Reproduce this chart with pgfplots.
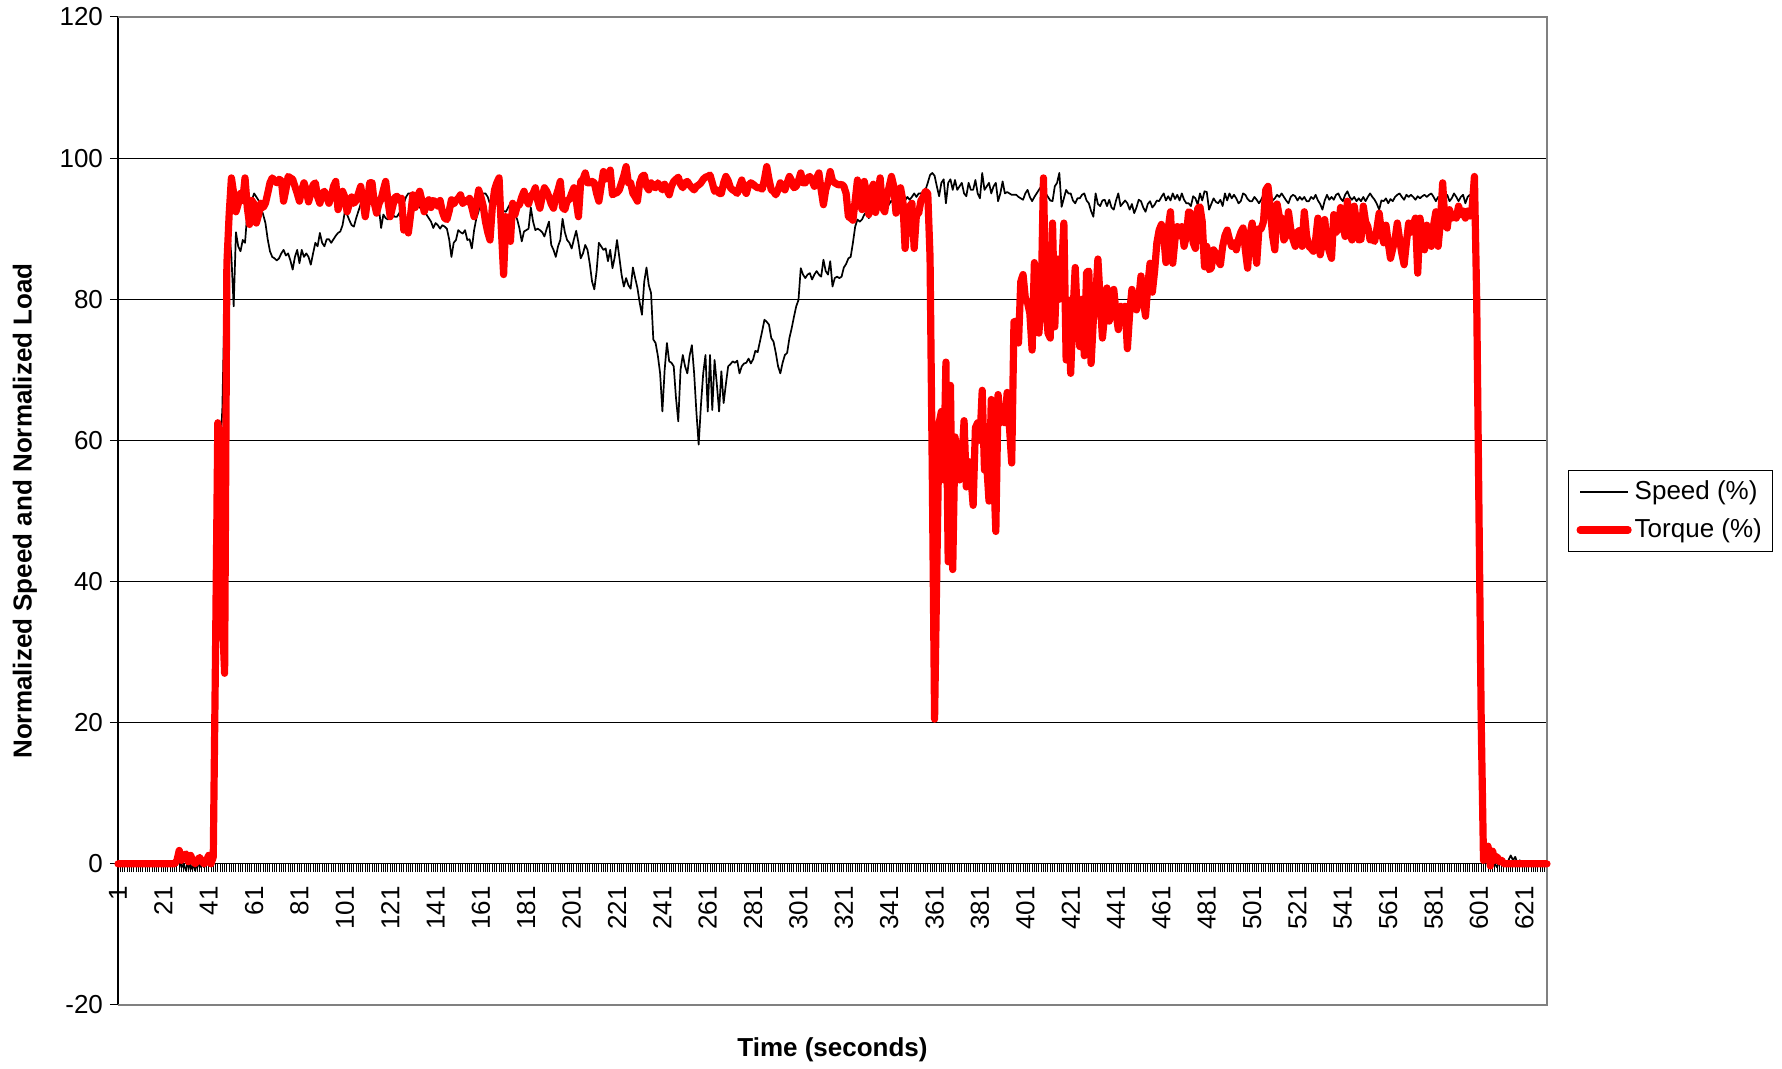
\documentclass[border=0pt]{standalone}
\usepackage{fontspec}
\setmainfont{Liberation Sans}
\usepackage{pgfplots}
\usepackage{pgfplotstable}
\pgfplotsset{compat=1.18}

\pgfplotstableread[row sep=\\]{
S\\
0\\ 0\\ 0\\ 0\\ 0\\ 0\\ 0\\ 0\\ 0\\ 0\\
0\\ 0\\ 0\\ 0\\ 0\\ 0\\ 0\\ 0\\ 0\\ 0\\
0\\ 0\\ 0\\ 0\\ 0\\ 0\\ 0\\ 0.5\\ -0.5\\ 0\\
-1\\ 0.5\\ -0.8\\ 0\\ -1\\ 0.3\\ -0.5\\ 0\\ -0.5\\ 0.2\\
0\\ -0.3\\ 0\\ 20\\ 45\\ 58\\ 64.5\\ 80\\ 88\\ 90\\
86\\ 79\\ 89.5\\ 87.5\\ 86.8\\ 88.4\\ 88\\ 92.2\\ 93\\ 94\\
95\\ 94.5\\ 94\\ 93\\ 92\\ 90.8\\ 88.5\\ 86.8\\ 86\\ 85.8\\
85.5\\ 85.8\\ 86.5\\ 87\\ 86.2\\ 86.5\\ 85.5\\ 84.2\\ 86\\ 87\\
85.1\\ 87\\ 86\\ 86.5\\ 86\\ 84.9\\ 86.5\\ 88\\ 87.5\\ 89.4\\
88\\ 87.5\\ 88.5\\ 88.5\\ 88\\ 88.5\\ 89\\ 89.4\\ 89.6\\ 90.5\\
92.4\\ 92\\ 91.2\\ 90.5\\ 90.3\\ 91.5\\ 92.5\\ 93.5\\ 94\\ 93.8\\
94\\ 94.5\\ 95\\ 94.2\\ 94.5\\ 93\\ 90.1\\ 92\\ 91.5\\ 91.3\\
91.6\\ 92\\ 91.7\\ 91.7\\ 92.2\\ 93\\ 93.6\\ 94.5\\ 95\\ 95\\
94.5\\ 94\\ 93.4\\ 93\\ 92.8\\ 92.5\\ 92\\ 91.5\\ 91\\ 90.1\\
90.8\\ 90.5\\ 90\\ 90.5\\ 90.3\\ 90\\ 88.5\\ 86\\ 88\\ 88.4\\
89.8\\ 89.5\\ 89.3\\ 89.8\\ 88.4\\ 88.5\\ 87.2\\ 89.8\\ 91.5\\ 92.5\\
94.5\\ 95\\ 95\\ 94.5\\ 93.5\\ 94\\ 94.5\\ 94\\ 93.5\\ 93\\
92.5\\ 92.4\\ 93\\ 93.6\\ 93\\ 92\\ 91.3\\ 90\\ 88.2\\ 89.6\\
89.8\\ 90\\ 93\\ 91\\ 89.8\\ 90\\ 89.8\\ 89.5\\ 88.9\\ 90\\
91\\ 87.7\\ 87\\ 86\\ 87.5\\ 88.4\\ 91.4\\ 89.5\\ 88.4\\ 88\\
87.2\\ 88.5\\ 89.7\\ 88\\ 85.8\\ 86.5\\ 87.7\\ 87\\ 85\\ 82.5\\
81.4\\ 84\\ 88\\ 87.5\\ 87\\ 87.2\\ 85.4\\ 87\\ 84.4\\ 86\\
88.4\\ 86\\ 83.5\\ 81.8\\ 83\\ 82\\ 81.5\\ 84.5\\ 83\\ 81.6\\
79.5\\ 77.8\\ 82.5\\ 84.5\\ 82\\ 80.9\\ 74.3\\ 73.8\\ 72\\ 69.5\\
64.1\\ 70\\ 73.8\\ 71.2\\ 71\\ 70.5\\ 66\\ 62.7\\ 70\\ 72.1\\
70.5\\ 69.5\\ 72\\ 73.5\\ 69.5\\ 64\\ 59.4\\ 65\\ 69.5\\ 72.1\\
64.1\\ 72.1\\ 64.3\\ 71.4\\ 68\\ 64.1\\ 69.8\\ 65.3\\ 68\\ 70.5\\
70.8\\ 71.2\\ 71\\ 71.3\\ 69.5\\ 70.5\\ 70.9\\ 71\\ 71.6\\ 70.9\\
71.5\\ 72.7\\ 72.5\\ 74\\ 75.5\\ 77.1\\ 76.8\\ 76.4\\ 74.5\\ 74\\
72.4\\ 70.5\\ 69.5\\ 71\\ 72.1\\ 72.4\\ 74.5\\ 75.9\\ 77.5\\ 79\\
79.9\\ 84.4\\ 83.5\\ 83\\ 83.5\\ 83.7\\ 82.8\\ 83.5\\ 84\\ 83.5\\
83.2\\ 85.6\\ 84\\ 83.5\\ 85.4\\ 81.8\\ 83\\ 83.2\\ 83\\ 83.2\\
84.5\\ 85\\ 85.8\\ 86\\ 88\\ 90.3\\ 91.3\\ 91\\ 91.3\\ 92\\
92.4\\ 91.5\\ 92\\ 92.9\\ 93.5\\ 93\\ 94\\ 93.5\\ 94\\ 93\\
93.5\\ 94\\ 93.5\\ 94\\ 93.5\\ 94\\ 93.5\\ 94\\ 94.5\\ 94.1\\
94.5\\ 95\\ 94.5\\ 95\\ 95\\ 95.3\\ 95.5\\ 96.5\\ 97.6\\ 97.9\\
97.5\\ 96\\ 94.6\\ 96.5\\ 97\\ 93.6\\ 96.5\\ 97\\ 95.5\\ 96.9\\
95.5\\ 96\\ 96.5\\ 95\\ 94.6\\ 96.5\\ 95.5\\ 95.5\\ 96.9\\ 95\\
94.3\\ 97.9\\ 95.5\\ 96\\ 96.5\\ 95\\ 96\\ 96.5\\ 93.9\\ 95\\
96.7\\ 95\\ 95.2\\ 95\\ 94.8\\ 94.8\\ 94.8\\ 94.5\\ 94.3\\ 94.1\\
95\\ 95.5\\ 94.5\\ 93.9\\ 94.5\\ 95\\ 95.5\\ 96\\ 96.5\\ 95\\
94.5\\ 94\\ 93.9\\ 96\\ 96.5\\ 97.9\\ 93.1\\ 94.3\\ 95.5\\ 95\\
95\\ 94\\ 93.6\\ 94.3\\ 94.3\\ 94.8\\ 95\\ 94\\ 93.6\\ 92.5\\
91.7\\ 95\\ 93.5\\ 93.2\\ 94\\ 94.1\\ 93.2\\ 94.1\\ 93\\ 92.7\\
94\\ 95\\ 93.2\\ 93.6\\ 94\\ 93.6\\ 92.7\\ 93.5\\ 92.2\\ 93\\
94.1\\ 93.9\\ 93\\ 92.4\\ 93.5\\ 93.9\\ 93\\ 93.4\\ 94\\ 93.9\\
94.5\\ 95\\ 94\\ 94.6\\ 94\\ 95\\ 94.2\\ 94.8\\ 94\\ 95\\
94.1\\ 93.6\\ 93.6\\ 93.2\\ 94.6\\ 94.3\\ 93.4\\ 95\\ 94\\ 95.3\\
95.2\\ 92.7\\ 93.5\\ 94.3\\ 93.8\\ 93.6\\ 94.1\\ 93.2\\ 95\\ 94\\
95\\ 94.3\\ 94.8\\ 94.3\\ 93.6\\ 93.9\\ 95\\ 94.8\\ 94.2\\ 93.9\\
93.9\\ 94.5\\ 94.1\\ 93.6\\ 94.1\\ 94.8\\ 95.5\\ 94.6\\ 94.6\\ 94\\
94.3\\ 94.8\\ 94.5\\ 95\\ 94.5\\ 94\\ 93.6\\ 94.5\\ 94.8\\ 94.6\\
94\\ 94.5\\ 94.1\\ 94.5\\ 93.9\\ 93.9\\ 94.5\\ 94.2\\ 94.8\\ 94\\
93.5\\ 92.7\\ 94\\ 94.8\\ 94.1\\ 94.5\\ 94.1\\ 94.8\\ 95\\ 94.3\\
93.9\\ 94.8\\ 95.3\\ 94.5\\ 94.1\\ 94.5\\ 93.9\\ 94.3\\ 93.9\\ 94.5\\
93.9\\ 94.5\\ 95\\ 94.5\\ 94.1\\ 93.5\\ 92.7\\ 94\\ 93.9\\ 94.3\\
93.6\\ 94.2\\ 93.9\\ 94.5\\ 94.8\\ 95\\ 94.5\\ 94.1\\ 94.8\\ 94.5\\
94.8\\ 94.5\\ 94.1\\ 94.6\\ 94.3\\ 94.6\\ 94.8\\ 94.5\\ 94.8\\ 95\\
94.5\\ 93.9\\ 94.5\\ 94.1\\ 94.6\\ 94.3\\ 94.8\\ 93.9\\ 94.3\\ 95\\
94.5\\ 93.9\\ 94.5\\ 94.8\\ 93.6\\ 94.5\\ 94.8\\ 94\\ 93.5\\ 70\\
30\\ 2\\ 0.5\\ 1\\ 0\\ -0.5\\ 0.5\\ 0\\ -0.5\\ 0.5\\
0\\ 0.3\\ -0.3\\ 0.5\\ 1.2\\ 0.5\\ 1\\ 0\\ 0.5\\ 0\\
0\\ 0\\ 0\\ 0\\ 0\\ 0\\ 0\\ 0\\ 0\\ 0\\
0\\
}\speed

\pgfplotstableread[row sep=\\]{
T\\
0\\ 0\\ 0\\ 0\\ 0\\ 0\\ 0\\ 0\\ 0\\ 0\\
0\\ 0\\ 0\\ 0\\ 0\\ 0\\ 0\\ 0\\ 0\\ 0\\
0\\ 0\\ 0\\ 0\\ 0\\ 0\\ 0.5\\ 1.9\\ 0.5\\ 1.2\\
1.4\\ 0.3\\ 1.2\\ 0.5\\ 0\\ 0.5\\ 0.9\\ 0.3\\ 0\\ 0.5\\
1.2\\ 0\\ 1\\ 30\\ 62.5\\ 60\\ 35\\ 27\\ 85\\ 92\\
97.2\\ 95\\ 92.4\\ 93.5\\ 95\\ 94\\ 97.2\\ 93\\ 90.6\\ 94\\
93.5\\ 90.8\\ 92\\ 93.6\\ 93\\ 93.6\\ 95\\ 96.5\\ 97.2\\ 96.8\\
96.5\\ 97\\ 96.8\\ 93.9\\ 95.5\\ 97.4\\ 97.2\\ 97\\ 96\\ 95\\
93.9\\ 95.5\\ 96.5\\ 95.5\\ 93.8\\ 95\\ 96.2\\ 96.5\\ 94.5\\ 93.6\\
95\\ 95.3\\ 94.5\\ 93.6\\ 94.5\\ 96\\ 96.7\\ 92.7\\ 94\\ 95.3\\
94.5\\ 92.4\\ 93.5\\ 94.5\\ 93.6\\ 94\\ 95\\ 96\\ 94\\ 91.7\\
94\\ 96.5\\ 96.5\\ 93.6\\ 92.2\\ 93.5\\ 94.2\\ 95.5\\ 96.7\\ 94\\
91.7\\ 93\\ 94.4\\ 94.6\\ 94\\ 94.3\\ 89.8\\ 91\\ 89.4\\ 92\\
94.8\\ 93\\ 94.5\\ 95.3\\ 94\\ 92.4\\ 93.5\\ 94.1\\ 93\\ 94\\
93.8\\ 93.2\\ 94\\ 92.4\\ 91.5\\ 91.3\\ 92.5\\ 94.1\\ 93.5\\ 94\\
94.3\\ 94.8\\ 93.6\\ 94\\ 93.8\\ 94.3\\ 93\\ 91.7\\ 93.5\\ 95.5\\
94.5\\ 93.2\\ 91\\ 89.5\\ 88.4\\ 93\\ 95.5\\ 96.5\\ 97.2\\ 90\\
83.5\\ 91.7\\ 90.5\\ 88.2\\ 93.6\\ 92\\ 93.2\\ 93.4\\ 94.5\\ 95.3\\
94.1\\ 93.5\\ 94.6\\ 95\\ 95.8\\ 94\\ 92.9\\ 94.5\\ 95.8\\ 95.3\\
94.5\\ 93.5\\ 92.9\\ 94.5\\ 95.5\\ 96.7\\ 93\\ 92.7\\ 94\\ 94.1\\
95\\ 95.8\\ 94\\ 91.7\\ 96.7\\ 97\\ 97.9\\ 96.5\\ 96.5\\ 96.7\\
96.5\\ 95\\ 93.9\\ 96\\ 98.1\\ 97\\ 97.4\\ 98.3\\ 94.8\\ 95\\
95.1\\ 95.5\\ 96.5\\ 97.5\\ 98.8\\ 96.5\\ 96.5\\ 95\\ 94.5\\ 93.9\\
96.5\\ 97.4\\ 97.6\\ 96\\ 95.5\\ 96.5\\ 96\\ 95.8\\ 96.5\\ 96\\
95.5\\ 96.3\\ 95.5\\ 94.8\\ 96\\ 96.7\\ 97\\ 97.3\\ 96.3\\ 95.8\\
96.5\\ 96.7\\ 96.2\\ 95.8\\ 95.5\\ 96\\ 96.2\\ 96.5\\ 97\\ 97.3\\
97.4\\ 97.6\\ 96.5\\ 95.3\\ 95.5\\ 95\\ 95\\ 96.5\\ 97.4\\ 96.8\\
95.8\\ 95.5\\ 95.3\\ 95\\ 96\\ 96.9\\ 95.5\\ 95\\ 96.2\\ 96.5\\
96.3\\ 96\\ 95.8\\ 95.8\\ 95.6\\ 97\\ 98.8\\ 97\\ 95.5\\ 95.3\\
94.8\\ 95.5\\ 96.5\\ 96\\ 95.5\\ 96.5\\ 97.4\\ 96.8\\ 95.8\\ 96\\
96.8\\ 97.9\\ 96.5\\ 96.5\\ 97.2\\ 97.4\\ 96.8\\ 96\\ 97.2\\ 97.9\\
95.5\\ 93.4\\ 95.5\\ 96.5\\ 98.1\\ 96.8\\ 96.5\\ 96.3\\ 96.2\\ 96.3\\
96\\ 95\\ 91.7\\ 91.5\\ 91.2\\ 94\\ 96.9\\ 94\\ 92.7\\ 96.7\\
95\\ 92\\ 95.5\\ 96.3\\ 92.3\\ 94.5\\ 97.2\\ 93\\ 92.4\\ 94.5\\
96\\ 97.4\\ 96\\ 92.2\\ 94\\ 95.8\\ 94\\ 87.2\\ 92\\ 93.2\\
93.6\\ 87.2\\ 92\\ 92.2\\ 94\\ 94.5\\ 95.3\\ 95\\ 86\\ 55\\
20.5\\ 42\\ 62.5\\ 64.1\\ 54.4\\ 71.1\\ 42.8\\ 67.8\\ 41.7\\ 60.5\\
58\\ 54.4\\ 57\\ 62.8\\ 53.4\\ 57\\ 55\\ 50.8\\ 61.8\\ 62.5\\
60\\ 67.1\\ 55.8\\ 56.5\\ 51.4\\ 65.8\\ 56\\ 47.1\\ 66.5\\ 62.5\\
63\\ 62.5\\ 66.8\\ 62\\ 56.8\\ 76.8\\ 76.9\\ 73.8\\ 82.5\\ 83.5\\
80.2\\ 79.5\\ 78\\ 72.8\\ 85.2\\ 78\\ 75.2\\ 80\\ 97.2\\ 80\\
75.2\\ 74.5\\ 90.8\\ 76.1\\ 85.7\\ 80\\ 84\\ 90.8\\ 71.4\\ 79.9\\
69.5\\ 78\\ 84.5\\ 77\\ 73.3\\ 80\\ 72\\ 83.8\\ 84\\ 70.9\\
77.1\\ 80\\ 85.7\\ 80\\ 74.5\\ 78\\ 81.6\\ 76.9\\ 79\\ 81.4\\
78\\ 75.7\\ 79\\ 78.5\\ 79\\ 73\\ 78\\ 81.4\\ 79\\ 78.5\\
80\\ 83.3\\ 80\\ 77.6\\ 82\\ 85.1\\ 81\\ 84\\ 88\\ 89.8\\
90.6\\ 89\\ 85.2\\ 90\\ 92.4\\ 85.1\\ 88.5\\ 90.3\\ 89\\ 90.3\\
87.5\\ 89\\ 92.4\\ 92.2\\ 88\\ 87.2\\ 92.9\\ 93.1\\ 91\\ 84.6\\
87.5\\ 84.2\\ 84.4\\ 87\\ 86.5\\ 85.5\\ 84.9\\ 87.5\\ 89\\ 89.8\\
88.5\\ 87.5\\ 88\\ 87\\ 88.5\\ 89.5\\ 90.1\\ 87\\ 84.4\\ 89\\
90.8\\ 88\\ 85.1\\ 90\\ 90\\ 91\\ 95.5\\ 96\\ 93\\ 89\\
87\\ 93.5\\ 91.7\\ 91.5\\ 88.4\\ 89\\ 92.4\\ 90\\ 88.5\\ 87.5\\
89.5\\ 89.8\\ 87.5\\ 92.4\\ 89\\ 87.5\\ 87.2\\ 86.8\\ 88.5\\ 91.5\\
86.3\\ 88\\ 91.3\\ 88\\ 86.8\\ 85.8\\ 92\\ 89.5\\ 90\\ 93\\
90.5\\ 88.9\\ 93.9\\ 89.5\\ 88.4\\ 93.2\\ 91\\ 88.4\\ 88.5\\ 93.2\\
91\\ 90.3\\ 88.4\\ 88.5\\ 88.2\\ 90\\ 92.2\\ 89.5\\ 88\\ 90.5\\
88\\ 85.8\\ 87.2\\ 88.5\\ 90.8\\ 88.5\\ 86.5\\ 84.9\\ 88\\ 90.8\\
89.5\\ 90.5\\ 91.5\\ 83.7\\ 91.5\\ 89\\ 87\\ 90.5\\ 88.5\\ 87.5\\
90.5\\ 92.4\\ 87.5\\ 91\\ 96.5\\ 90.8\\ 90.1\\ 92.7\\ 91.5\\ 92\\
91.5\\ 93.2\\ 92\\ 92.5\\ 91.5\\ 92.5\\ 91.8\\ 93\\ 97.4\\ 80\\
50\\ 20\\ 0.5\\ 1\\ 2.5\\ -0.3\\ 1.8\\ 0.5\\ 1\\ 0.3\\
0.5\\ 0\\ 0\\ 0\\ 0\\ 0\\ 0\\ 0\\ 0\\ 0\\
0\\ 0\\ 0\\ 0\\ 0\\ 0\\ 0\\ 0\\ 0\\ 0\\
0\\
}\torque

\begin{document}
\begin{tikzpicture}
\begin{axis}[
  scale only axis,
  width=714.5pt, height=494pt,
  xmin=1, xmax=631, ymin=-20, ymax=120,
  axis x line=middle, axis y line=left,
  axis line style={-},
  x axis line style={black, line width=0.6pt},
  y axis line style={black, line width=1pt},
  hide obscured x ticks=false, hide obscured y ticks=false,
  xtick={1,21,...,621},
  minor xtick={1,2,...,631},
  ytick={-20,0,...,120},
  ymajorgrids,
  major grid style={black, line width=0.5pt},
  tick align=outside,
  major tick length=4pt, minor tick length=4pt,
  tick style={black, line width=0.5pt},
  /pgf/number format/assume math mode=true,
  xticklabel style={rotate=90, anchor=east, inner xsep=7pt, font=\fontsize{13}{15}\selectfont},
  yticklabel style={font=\fontsize{13}{15}\selectfont},
  clip=false,
  legend style={at={(1,0.5)}, anchor=west, xshift=10.5pt, draw=black, line width=0.5pt,
    font=\fontsize{13}{15}\selectfont, inner xsep=4pt, inner ysep=4pt,
    row sep=5pt, nodes={inner sep=1.5pt}},
  legend cell align=left,
  legend image code/.code={\draw[#1] (0pt,0pt) -- (24pt,0pt);},
]
\draw[gray, line width=1pt] (rel axis cs:0,0) -- (rel axis cs:1,0) -- (rel axis cs:1,1) -- (rel axis cs:0,1);
\addplot[black, line width=0.85pt, line join=round] table[x expr=\coordindex+1, y=S] {\speed};
\addlegendentry{Speed (\%)}
\addplot[red, line width=3.6pt, line join=round, line cap=round] table[x expr=\coordindex+1, y=T] {\torque};
\addlegendentry{Torque (\%)}
\end{axis}
\node[rotate=90, font=\bfseries\fontsize{13}{15}\selectfont] at ([xshift=-46.5pt]current axis.west) {Normalized Speed and Normalized Load};
\node[font=\bfseries\fontsize{13}{15}\selectfont] at ([yshift=-22.5pt]current axis.south) {Time (seconds)};
\path ([shift={(-59pt,-31.5pt)}]current axis.south west) rectangle ([shift={(117.5pt,8.5pt)}]current axis.north east);
\end{tikzpicture}
\end{document}
